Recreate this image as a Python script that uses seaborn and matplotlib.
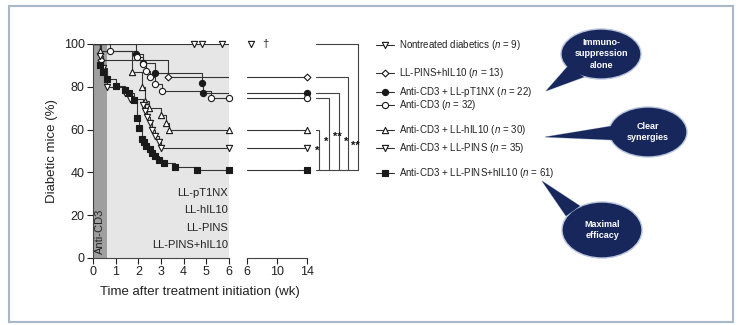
import matplotlib
matplotlib.use("Agg")
import matplotlib.pyplot as plt
from matplotlib.patches import Ellipse, Polygon, Rectangle
import pandas as pd
import seaborn as sns

sns.set_theme(style="ticks")
plt.rcParams["font.family"] = ["Liberation Sans", "DejaVu Sans"]
plt.rcParams["mathtext.fontset"] = "custom"
plt.rcParams["mathtext.it"] = "Liberation Sans:italic"
plt.rcParams["mathtext.rm"] = "Liberation Sans"

# groups (legend order)
labels = ["Nontreated diabetics", "LL-PINS+hIL10", "Anti-CD3 + LL-pT1NX", "Anti-CD3",
          "Anti-CD3 + LL-hIL10", "Anti-CD3 + LL-PINS", "Anti-CD3 + LL-PINS+hIL10"]
n_mice = [9, 13, 22, 32, 30, 35, 61]

# time (wk) of each step / marker and % still diabetic after it
t_nontreated = [4.45, 4.8, 5.7]
v_nontreated = [100, 100, 100]
t_pins_il10 = [0.35, 3.3]
v_pins_il10 = [92.3, 84.6]
t_pt1nx = [1.9, 2.2, 2.75, 4.8, 4.85]
v_pt1nx = [95.5, 90.9, 86.4, 81.8, 77.3]
t_cd3 = [0.75, 1.95, 2.2, 2.35, 2.5, 2.75, 3.05, 5.2, 6.0]
v_cd3 = [96.9, 93.8, 90.6, 87.5, 84.4, 81.3, 78.1, 75.0, 75.0]
t_cd3_il10 = [0.3, 1.7, 2.15, 2.3, 2.45, 3.0, 3.2, 3.35, 6.0]
v_cd3_il10 = [96.7, 86.7, 80.0, 73.3, 70.0, 66.7, 63.3, 60.0, 60.0]
t_cd3_pins = [0.3, 0.45, 0.6, 1.4, 1.65, 2.2, 2.3, 2.4, 2.5, 2.6, 2.75, 2.9, 3.0, 6.0]
v_cd3_pins = [94.3, 88.6, 80.0, 77.1, 74.3, 71.4, 68.6, 65.7, 62.9, 60.0, 57.1, 54.3, 51.4, 51.4]
t_cd3_combo = [0.3, 0.45, 0.6, 1.0, 1.4, 1.6, 1.8, 1.95, 2.05, 2.15, 2.25, 2.35, 2.5,
               2.6, 2.75, 2.9, 3.15, 3.6, 4.6, 6.0]
v_cd3_combo = [90.2, 86.9, 83.6, 80.3, 78.7, 77.0, 73.8, 65.6, 60.7, 55.7, 54.1, 52.5, 50.8,
               49.2, 47.5, 45.9, 44.3, 42.6, 41.0, 41.0]

times = [t_nontreated, t_pins_il10, t_pt1nx, t_cd3, t_cd3_il10, t_cd3_pins, t_cd3_combo]
values = [v_nontreated, v_pins_il10, v_pt1nx, v_cd3, v_cd3_il10, v_cd3_pins, v_cd3_combo]
markers = ["v", "D", "o", "o", "^", "v", "s"]
filled = [False, False, True, False, False, False, True]
msize = [20, 12, 20, 20, 20, 20, 20]

# significance vs combo group
sig_groups = [0, 1, 2, 3, 4]
sig_text = ["**", "*", "**", "*", "*"]

lc = "#333333"
ec = "#1a1a1a"

fig = plt.figure(figsize=(7.4, 3.25), dpi=100)
fig.patch.set_facecolor("white")

bottom = 1 - 258 / 325
height = 214 / 325
ax = fig.add_axes([93 / 740, bottom, 136 / 740, height])
ax2 = fig.add_axes([247 / 740, bottom, 60 / 740, height])

# main panel
ax.set_facecolor("#e6e6e6")
ax.axvspan(0, 0.6, color="#9f9f9f", lw=0, zorder=0)
for i in range(len(labels)):
    x = [0] + times[i] + [6]
    y = [100] + values[i] + [values[i][-1]]
    df = pd.DataFrame({"t": x, "v": y})
    sns.lineplot(data=df, x="t", y="v", drawstyle="steps-post", color=lc, lw=0.8,
                 estimator=None, sort=False, ax=ax, zorder=2)
    sns.scatterplot(x=times[i], y=values[i], marker=markers[i], s=msize[i],
                    color=ec if filled[i] else "white", edgecolor=ec, linewidth=0.8,
                    ax=ax, zorder=3, clip_on=False)

ax.set_xlim(0, 6)
ax.set_ylim(0, 100)
ax.set_xticks(range(0, 7))
ax.set_yticks(range(0, 101, 20))
ax.set_xlabel("")
ax.set_ylabel("")
sns.despine(ax=ax)
for a in (ax, ax2):
    a.tick_params(length=4, width=0.8, pad=2, labelsize=9, colors="#222222")
    for s in a.spines.values():
        s.set_linewidth(0.8)
        s.set_color("#444444")

ax.text(0.3, 2, "Anti-CD3", rotation=90, ha="center", va="bottom", fontsize=8, color="#222222")
for txt, yy in zip(["LL-pT1NX", "LL-hIL10", "LL-PINS", "LL-PINS+hIL10"], [30.5, 22.3, 14.2, 6.0]):
    ax.text(5.95, yy, txt, ha="right", va="center", fontsize=8, color="#222222")

# broken axis 6-14 wk
ax2.set_facecolor("none")
for i in range(1, len(labels)):
    sns.lineplot(x=[6, 14], y=[values[i][-1]] * 2, color=lc, lw=0.8, estimator=None, ax=ax2)
    sns.scatterplot(x=[14], y=[values[i][-1]], marker=markers[i], s=msize[i],
                    color=ec if filled[i] else "white", edgecolor=ec, linewidth=0.8,
                    ax=ax2, zorder=3, clip_on=False)
sns.scatterplot(x=[6.6], y=[100], marker="v", s=20, color="white", edgecolor=ec,
                linewidth=0.8, ax=ax2, zorder=3, clip_on=False)
ax2.text(8.4, 100, "†", ha="center", va="center", fontsize=8, color="#222222")
ax2.set_xlim(6, 14)
ax2.set_ylim(0, 100)
ax2.set_xticks([6, 10, 14])
ax2.set_yticks([])
ax2.set_xlabel("")
ax2.set_ylabel("")
for s in ["left", "top", "right"]:
    ax2.spines[s].set_visible(False)

# significance brackets
base = values[6][-1]
bx = [20.8, 19.5, 18.3, 16.9, 15.6]
sy = [52.3, 54.1, 56.7, 54.4, 50.2]
kw = dict(color="#444444", lw=0.8, clip_on=False)
ax2.plot([15.2, 20.8], [base, base], **kw)
for g, x, st, yy in zip(sig_groups, bx, sig_text, sy):
    lev = values[g][-1]
    ax2.plot([15.2, x, x], [lev, lev, base], **kw)
    ax2.text(x - 0.3, yy, st, ha="center", va="center", fontsize=8, fontweight="bold",
             color="#111111", clip_on=False)

# legend rows
ly = [99.5, 86.6, 77.7, 71.5, 59.8, 51.3, 39.6]
for i in range(len(labels)):
    ax2.plot([23.2, 25.6], [ly[i], ly[i]], color=lc, lw=0.8, clip_on=False)
    ax2.scatter([24.4], [ly[i]], marker=markers[i], s=msize[i],
                color=ec if filled[i] else "white", edgecolor=ec, linewidth=0.8,
                zorder=3, clip_on=False)
    ax2.text(26.3, ly[i], f"{labels[i]} ($n$ = {n_mice[i]})", ha="left", va="center",
             fontsize=7, color="#222222", clip_on=False)

fig.text(200 / 740, 1 - 292 / 325, "Time after treatment initiation (wk)", ha="center",
         va="center", fontsize=9.5, color="#222222")
fig.text(52 / 740, 1 - 151 / 325, "Diabetic mice (%)", ha="center", va="center",
         rotation=90, fontsize=9.5, color="#222222")

# overlay: frame and speech bubbles (pixel coords)
ov = fig.add_axes([0, 0, 1, 1], zorder=5)
ov.set_xlim(0, 740)
ov.set_ylim(325, 0)
ov.axis("off")
ov.patch.set_alpha(0)
ov.add_patch(Rectangle((9, 6), 724, 316, fill=False, edgecolor="#a9b8c8", lw=1.5))

navy = "#17275c"
bubbles = [
    ((601, 54), 80, 50, [(546, 91), (568, 66), (584, 77)], "Immuno-\nsuppression\nalone"),
    ((648, 132), 78, 50, [(545, 137), (612, 126), (614, 140)], "Clear\nsynergies"),
    ((602, 230), 80, 56, [(542, 181), (566, 216), (580, 206)], "Maximal\nefficacy"),
]
for (cx, cy), w, h, tail, txt in bubbles:
    ov.add_patch(Polygon(tail, closed=True, facecolor=navy, edgecolor="#b8c4dc", lw=0.8))
    ov.add_patch(Ellipse((cx, cy), w, h, facecolor=navy, edgecolor="#b8c4dc", lw=1))
    ov.add_patch(Polygon(tail, closed=True, facecolor=navy, edgecolor="none"))
    ov.text(cx, cy, txt, ha="center", va="center", color="white", fontsize=6.5,
            fontweight="bold", linespacing=1.3)

fig.savefig("out.png", dpi=100)
